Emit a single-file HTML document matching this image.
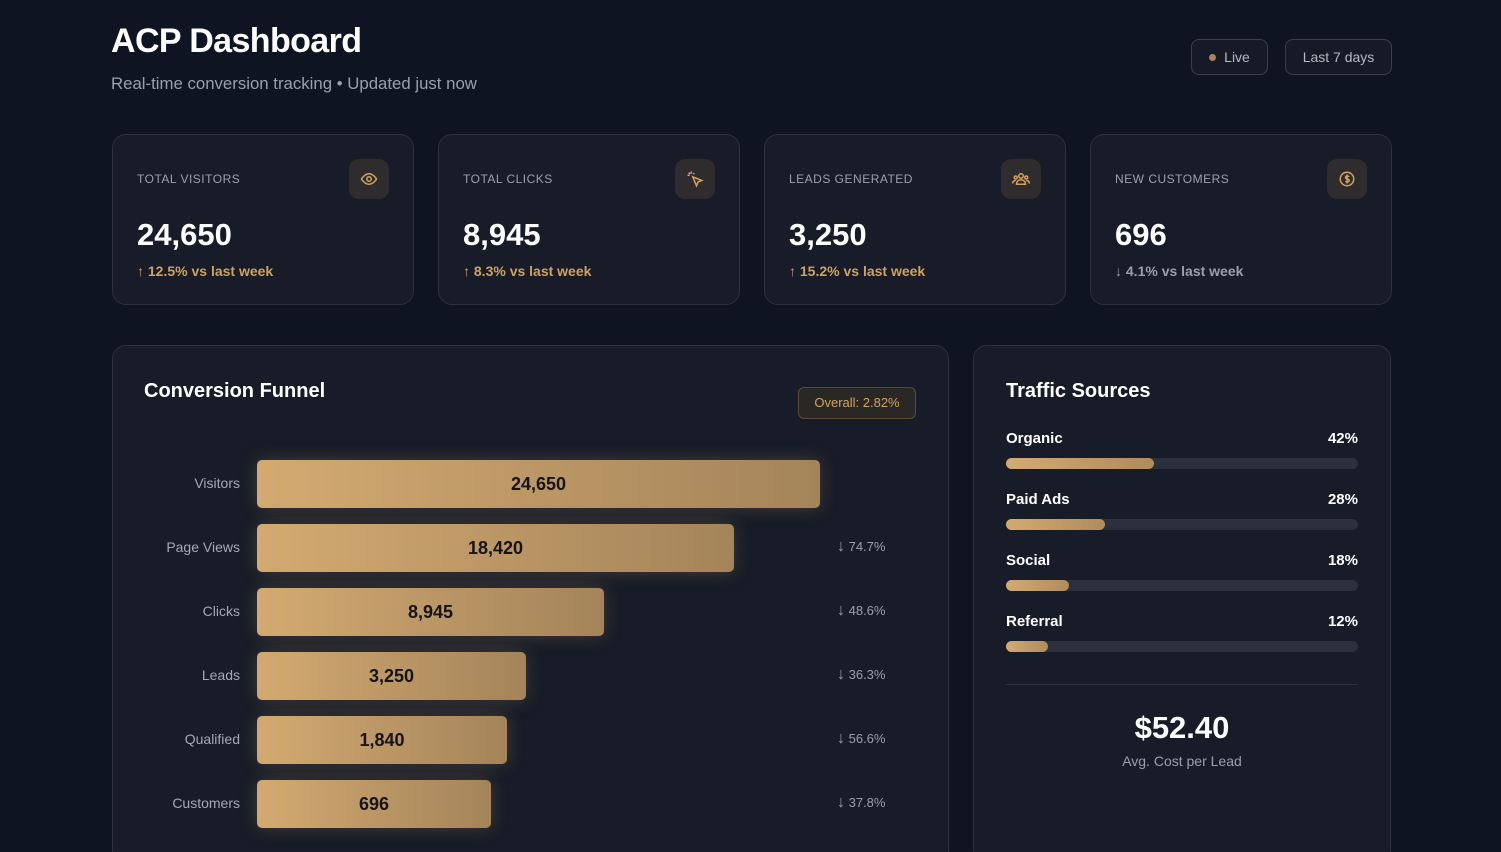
<!DOCTYPE html>
<html><head><style>
*{margin:0;padding:0;box-sizing:border-box}
html,body{width:1501px;height:852px;overflow:hidden}
body{background:#0e1421;font-family:"Liberation Sans",sans-serif;color:#fff;position:relative}
.a{position:absolute}
h1{position:absolute;left:111px;top:22px;font-size:34px;font-weight:700;letter-spacing:-0.6px}
.sub{left:111px;top:74px;font-size:16.8px;color:#9aa0ab}
.btn{position:absolute;top:39px;height:36px;border:1px solid #3a3f4b;border-radius:8px;background:#151a26;color:#b4b8c0;font-size:14px;line-height:34px;text-align:center}
.card{position:absolute;top:134px;width:302px;height:171px;background:#171c28;border:1px solid #2c313c;border-radius:14px}
.card .t{position:absolute;left:24px;top:37px;font-size:12px;color:#9aa0ab;letter-spacing:0.5px}
.card .ic{position:absolute;left:236px;top:24px;width:40px;height:40px;border-radius:10px;background:#2e2c2c;display:flex;align-items:center;justify-content:center}
.card .v{position:absolute;left:24px;top:82px;font-size:31px;font-weight:700}
.card .c{position:absolute;left:24px;top:128px;font-size:14px;color:#cfa260;font-weight:700}
.card .c.g{color:#9aa0ab}
.panel{position:absolute;top:345px;height:520px;background:#171c28;border:1px solid #2c313c;border-radius:14px}
.pt{font-size:20px;font-weight:700}
.lab{position:absolute;width:130px;text-align:right;left:110px;font-size:14px;color:#a4a9b2}
.bar{position:absolute;left:257px;height:48px;border-radius:5px;background:linear-gradient(90deg,#d3aa71,#a4845a);box-shadow:0 0 18px rgba(200,160,100,0.25);color:#141414;font-weight:700;font-size:18px;text-align:center;line-height:48px}
.pc{position:absolute;left:837px;font-size:13px;color:#9aa0ab}
.pc b{font-weight:400;font-size:16px}
.tl{position:absolute;left:1006px;font-size:15px;font-weight:700}
.tr{position:absolute;right:143px;font-size:15px;font-weight:700}
.tb{position:absolute;left:1006px;width:352px;height:11px;border-radius:6px;background:#2a303c}
.tb div{height:100%;border-radius:6px;background:linear-gradient(90deg,#d3aa71,#b08b5c)}
</style></head><body>
<h1>ACP Dashboard</h1>
<div class="a sub">Real-time conversion tracking • Updated just now</div>
<div class="btn" style="left:1191px;width:77px"><span style="display:inline-block;width:7px;height:7px;border-radius:50%;background:#a8855a;margin-right:8px;vertical-align:1px"></span>Live</div>
<div class="btn" style="left:1285px;width:107px">Last 7 days</div>

<div class="card" style="left:112px"><div class="t">TOTAL VISITORS</div><div class="ic"><svg width="18" height="18" viewBox="0 0 24 24" fill="none" stroke="#d4a25e" stroke-width="2"><path d="M2 12s4-7 10-7 10 7 10 7-4 7-10 7S2 12 2 12z"/><circle cx="12" cy="12" r="3"/></svg></div><div class="v">24,650</div><div class="c">↑ 12.5% vs last week</div></div>
<div class="card" style="left:438px"><div class="t">TOTAL CLICKS</div><div class="ic"><svg width="18" height="18" viewBox="0 0 24 24" fill="none" stroke="#d4a25e" stroke-width="2"><path d="M9 9l5 12 2-5 5-2z"/><path d="M7 2v3M2 7h3M3.5 3.5l2 2M11 4l-1.5 1.5"/></svg></div><div class="v">8,945</div><div class="c">↑ 8.3% vs last week</div></div>
<div class="card" style="left:764px"><div class="t">LEADS GENERATED</div><div class="ic"><svg width="18" height="18" viewBox="0 0 24 24" fill="none" stroke="#d4a25e" stroke-width="2"><circle cx="12" cy="8" r="3"/><circle cx="5" cy="10" r="2"/><circle cx="19" cy="10" r="2"/><path d="M6 19c0-4 3-6 6-6s6 2 6 6zM1 18c0-3 2-4 4-4M23 18c0-3-2-4-4-4"/></svg></div><div class="v">3,250</div><div class="c">↑ 15.2% vs last week</div></div>
<div class="card" style="left:1090px"><div class="t">NEW CUSTOMERS</div><div class="ic"><svg width="18" height="18" viewBox="0 0 24 24" fill="none" stroke="#d4a25e" stroke-width="2"><circle cx="12" cy="12" r="9"/><path d="M15 9c-1-1-5-1.5-5 1s5 1.5 5 4-4 2-5 1M12 6v12"/></svg></div><div class="v">696</div><div class="c g">↓ 4.1% vs last week</div></div>

<div class="panel" style="left:112px;width:837px"></div>
<div class="a pt" style="left:144px;top:380px">Conversion Funnel</div>
<div class="a" style="left:798px;top:387px;width:118px;height:32px;border:1px solid #5a4a34;border-radius:6px;background:#2a2824;color:#d4a25e;font-size:13px;line-height:30px;text-align:center">Overall: 2.82%</div>

<div class="lab" style="top:475px">Visitors</div><div class="bar" style="top:460px;width:563px">24,650</div>
<div class="lab" style="top:539px">Page Views</div><div class="bar" style="top:524px;width:477px">18,420</div><div class="pc" style="top:538px"><b>↓</b> 74.7%</div>
<div class="lab" style="top:603px">Clicks</div><div class="bar" style="top:588px;width:347px">8,945</div><div class="pc" style="top:602px"><b>↓</b> 48.6%</div>
<div class="lab" style="top:667px">Leads</div><div class="bar" style="top:652px;width:269px">3,250</div><div class="pc" style="top:666px"><b>↓</b> 36.3%</div>
<div class="lab" style="top:731px">Qualified</div><div class="bar" style="top:716px;width:250px">1,840</div><div class="pc" style="top:730px"><b>↓</b> 56.6%</div>
<div class="lab" style="top:795px">Customers</div><div class="bar" style="top:780px;width:234px">696</div><div class="pc" style="top:794px"><b>↓</b> 37.8%</div>

<div class="panel" style="left:973px;width:418px"></div>
<div class="a pt" style="left:1006px;top:380px">Traffic Sources</div>
<div class="tl" style="top:430px">Organic</div><div class="tr" style="top:430px">42%</div><div class="tb" style="top:458px"><div style="width:42%"></div></div>
<div class="tl" style="top:491px">Paid Ads</div><div class="tr" style="top:491px">28%</div><div class="tb" style="top:519px"><div style="width:28%"></div></div>
<div class="tl" style="top:552px">Social</div><div class="tr" style="top:552px">18%</div><div class="tb" style="top:580px"><div style="width:18%"></div></div>
<div class="tl" style="top:613px">Referral</div><div class="tr" style="top:613px">12%</div><div class="tb" style="top:641px"><div style="width:12%"></div></div>
<div class="a" style="left:1006px;top:684px;width:352px;height:1px;background:#2c313c"></div>
<div class="a" style="left:1006px;top:710px;width:352px;text-align:center;font-size:31px;font-weight:700">$52.40</div>
<div class="a" style="left:1006px;top:753px;width:352px;text-align:center;font-size:14px;color:#9aa0ab">Avg. Cost per Lead</div>
</body></html>
